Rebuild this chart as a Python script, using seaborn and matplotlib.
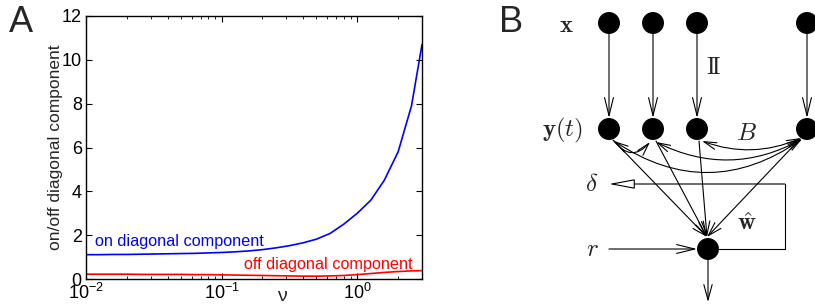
import matplotlib
matplotlib.use('Agg')
import matplotlib.pyplot as plt
import seaborn as sns
import pandas as pd

# panel A: values
nu = [0.01, 0.0126, 0.0158, 0.02, 0.0251, 0.0316, 0.0398, 0.0501, 0.0631, 0.0794,
      0.1, 0.126, 0.158, 0.2, 0.251, 0.316, 0.398, 0.501, 0.631, 0.794,
      1.0, 1.26, 1.58, 2.0, 2.51, 3.0]
on_diag = [1.11, 1.11, 1.12, 1.12, 1.13, 1.14, 1.15, 1.16, 1.17, 1.19,
           1.21, 1.24, 1.28, 1.34, 1.42, 1.52, 1.65, 1.82, 2.08, 2.5,
           3.0, 3.6, 4.5, 5.8, 7.9, 10.7]
off_diag = [0.22, 0.22, 0.22, 0.22, 0.21, 0.21, 0.21, 0.21, 0.20, 0.20,
            0.19, 0.18, 0.17, 0.16, 0.15, 0.14, 0.13, 0.13, 0.14, 0.16,
            0.20, 0.25, 0.30, 0.34, 0.37, 0.38]
y_ticks = [0, 2, 4, 6, 8, 10, 12]

# panel B: network layout (pixel grid of the panel)
col_x = [609, 653, 697, 807]
row_in = 23
row_hid = 129
out_node = (708, 249)

sns.set_style('ticks')
plt.rcParams['font.family'] = ['Liberation Sans', 'DejaVu Sans']
plt.rcParams['mathtext.fontset'] = 'cm'

fig = plt.figure(figsize=(8.15, 3.04), dpi=100)

# ---------------- panel A ----------------
ax = fig.add_axes([86 / 815, 25 / 304, 336 / 815, 263 / 304])
df = pd.DataFrame({
    'nu': nu * 2,
    'value': on_diag + off_diag,
    'component': ['on'] * len(nu) + ['off'] * len(nu),
})
sns.lineplot(data=df, x='nu', y='value', hue='component',
             palette={'on': '#0000ff', 'off': '#ff0000'},
             legend=False, linewidth=1.2, errorbar=None, ax=ax)
ax.set_xscale('log')
ax.set_xlim(0.01, 3.0)
ax.set_ylim(0, 12)
ax.set_yticks(y_ticks)
for s in ax.spines.values():
    s.set_visible(True)
    s.set_linewidth(1.0)
    s.set_color('black')
ax.tick_params(which='both', direction='in', top=True, right=True, labelsize=13, colors='black')
ax.tick_params(which='major', length=4, pad=3)
ax.tick_params(axis='x', which='major', pad=2.5)
ax.tick_params(which='minor', length=2)
ax.set_ylabel('on/off diagonal component', fontsize=12.5, labelpad=-1)
ax.set_xlabel('ν', fontsize=14)
ax.xaxis.set_label_coords(0.583, -0.065)
ax.xaxis.label.set_verticalalignment('center')
ax.text(0.0116, 1.5, 'on diagonal component', color='#0000ff', fontsize=11.7,
        ha='left', va='baseline')
ax.text(2.57, 0.47, 'off diagonal component', color='#ff0000', fontsize=11.7,
        ha='right', va='baseline')

fig.text(21 / 815, 1 - 23 / 304, 'A', fontsize=26, ha='center', va='center')
fig.text(511 / 815, 1 - 23 / 304, 'B', fontsize=26, ha='center', va='center')

# ---------------- panel B ----------------
axb = fig.add_axes([480 / 815, 0, 335 / 815, 1])
axb.set_facecolor('none')


def arrow(start, end, style='->', hl=1.3, hw=0.32, rad=0.0, lw=0.8, fc='black'):
    axb.annotate('', xy=end, xytext=start, xycoords='data', annotation_clip=False,
                 arrowprops=dict(arrowstyle=f'{style},head_length={hl},head_width={hw}',
                                 connectionstyle=f'arc3,rad={rad}', lw=lw,
                                 color='black', fc=fc, shrinkA=0, shrinkB=0))


nodes_x = col_x + col_x + [out_node[0]]
nodes_y = [row_in] * 4 + [row_hid] * 4 + [out_node[1]]
sns.scatterplot(x=nodes_x, y=nodes_y, s=250, color='black', edgecolor='none',
                ax=axb, zorder=3)

# x -> y(t)
for cx in col_x:
    arrow((cx, row_in + 11), (cx, row_hid - 11))

# recurrent connections B
arrow((614, 141), (650, 142), style='->', hl=0.9, hw=0.25, rad=0.6)
arrow((614, 141), (802, 139), style='<->', hl=0.9, hw=0.25, rad=0.34)
arrow((656, 142), (802, 139), style='<->', hl=0.9, hw=0.25, rad=0.26)
arrow((702, 141), (801, 138), style='<->', hl=0.9, hw=0.25, rad=0.2)

# y(t) -> output
tip = (out_node[0] - 1, out_node[1] - 12)
for sx, sy in [(613, 140), (656, 141), (699, 141), (800, 139)]:
    arrow((sx, sy), tip, hl=1.0, hw=0.3)

# r input, output and feedback delta
arrow((609, out_node[1]), (out_node[0] - 11, out_node[1]))
arrow((out_node[0], out_node[1] + 11), (out_node[0], 302), hl=1.1, hw=0.3)
axb.plot([out_node[0] + 11, 785, 785], [out_node[1], out_node[1], 184],
         color='black', lw=0.8)
arrow((785, 184), (609, 184), style='-|>', hl=1.6, hw=0.3, fc='white')

axb.text(566, 25, r'$\mathbf{x}$', fontsize=18, ha='center', va='center')
axb.text(583, 130, r'$\mathbf{y}(t)$', fontsize=18, ha='right', va='center')
axb.text(713, 68, r'$\mathrm{I\!I}$', fontsize=17, ha='center', va='center')
axb.text(746, 133, r'$B$', fontsize=18, ha='center', va='center')
axb.text(592, 184, r'$\delta$', fontsize=18, ha='center', va='center')
axb.text(592, 249, r'$r$', fontsize=18, ha='center', va='center')
axb.text(747, 223, r'$\hat{\mathbf{w}}$', fontsize=18, ha='center', va='center')

axb.set_xlim(480, 815)
axb.set_ylim(304, 0)
axb.axis('off')

fig.savefig('out.png', dpi=100)
